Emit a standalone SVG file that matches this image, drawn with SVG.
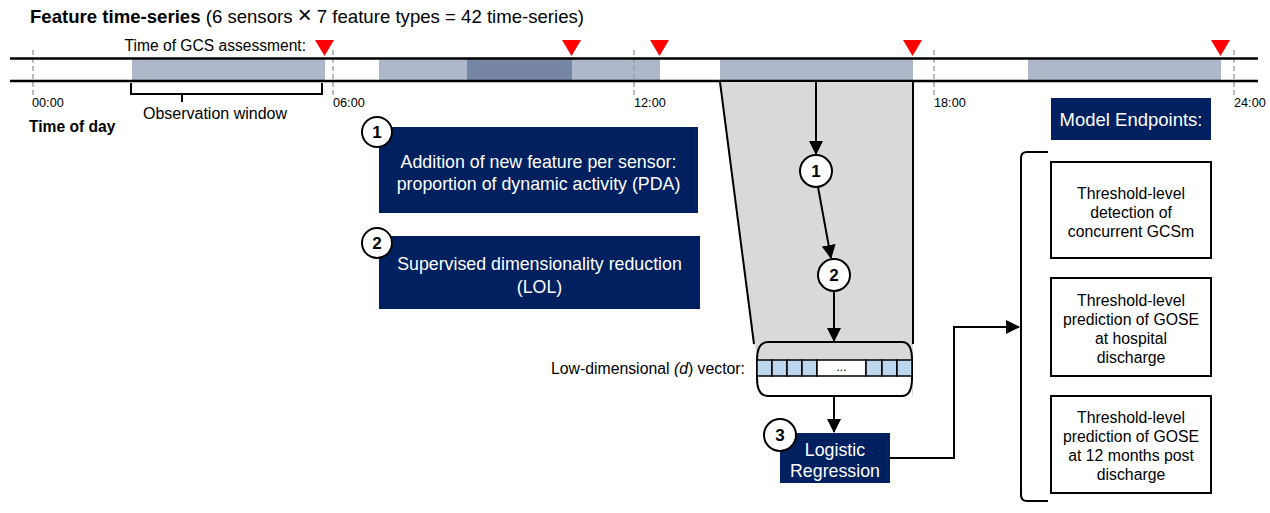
<svg xmlns="http://www.w3.org/2000/svg" width="1270" height="513" viewBox="0 0 1270 513">
<style>
text{font-family:"Liberation Sans",Arial,sans-serif;fill:#000}
.w{fill:#fff}
.navy{fill:#002060}
.seg{fill:#ADB9CA}
.segd{fill:#7786A4}
.tick{stroke:#999;stroke-width:1.3;stroke-dasharray:5,3}
.ln{stroke:#000;stroke-width:2;fill:none}
.tri{fill:#FF0000}
.circ{fill:#fff;stroke:#000;stroke-width:2}
.num{font-size:17px;font-weight:bold;text-anchor:middle}
.ep{fill:#fff;stroke:#000;stroke-width:2}
.ept{font-size:15.8px;text-anchor:middle}
.cell{fill:#BDD7EE;stroke:#000;stroke-width:1.5}
.bt{font-size:17.8px;text-anchor:middle}
.tk{font-size:12.7px}
</style>
<defs>
<marker id="ahb" markerWidth="14" markerHeight="14" refX="13" refY="7" orient="auto" markerUnits="userSpaceOnUse" viewBox="0 0 14 14">
<path d="M0,0 L14,7 L0,14 Z" fill="#000"/>
</marker>
</defs>

<g id="title">
<text x="30" y="23" font-size="18.6"><tspan font-weight="bold">Feature time-series</tspan> (6 sensors <tspan font-size="24">×</tspan> 7 feature types = 42 time-series)</text>
</g>

<g id="timeline">
<rect class="seg" x="132" y="59" width="193" height="22"/>
<rect class="seg" x="379" y="59" width="88" height="22"/>
<rect class="segd" x="467" y="59" width="105" height="22"/>
<rect class="seg" x="572" y="59" width="88" height="22"/>
<rect class="seg" x="720" y="59" width="193" height="22"/>
<rect class="seg" x="1028" y="59" width="193" height="22"/>
<line x1="33" y1="50" x2="33" y2="96" class="tick"/>
<line x1="333" y1="50" x2="333" y2="96" class="tick"/>
<line x1="634" y1="50" x2="634" y2="96" class="tick"/>
<line x1="934" y1="50" x2="934" y2="96" class="tick"/>
<line x1="1234" y1="50" x2="1234" y2="96" class="tick"/>
<line x1="10" y1="58.5" x2="1258" y2="58.5" stroke="#000" stroke-width="2.5"/>
<line x1="10" y1="81" x2="1258" y2="81" stroke="#000" stroke-width="2.5"/>
<text class="tk" x="32" y="107">00:00</text>
<text class="tk" x="333" y="107">06:00</text>
<text class="tk" x="634" y="107">12:00</text>
<text class="tk" x="934" y="107">18:00</text>
<text class="tk" x="1234" y="107">24:00</text>
<text x="29" y="132" font-size="15.6" font-weight="bold">Time of day</text>
<text x="306" y="51" font-size="15.6" text-anchor="end">Time of GCS assessment:</text>
<polygon class="tri" points="315,40 334,40 324.5,56"/>
<polygon class="tri" points="562,40 581,40 571.5,56"/>
<polygon class="tri" points="650,40 669,40 659.5,56"/>
<polygon class="tri" points="903,40 922,40 912.5,56"/>
<polygon class="tri" points="1211,40 1230,40 1220.5,56"/>
</g>

<g id="observation-window">
<path class="ln" d="M131,83 V94 H322 V83 M182,94 V102"/>
<text x="215" y="119" font-size="16" text-anchor="middle">Observation window</text>
</g>

<g id="funnel">
<polygon points="720,82 913,82 913,396 757,396 757,355 753,340" fill="#D9D9D9"/>
<path class="ln" d="M720,82 L754,344"/>
<line x1="913" y1="82" x2="913" y2="344" class="ln"/>
</g>

<g id="vector">
<path d="M757,396 H912 V376 H757 Z" fill="#fff"/>
<path class="ln" d="M768,342 H902 Q912,342 912,360 V378 Q912,396 902,396 H768 Q757,396 757,378 V360 Q757,342 768,342 Z"/>
<rect class="cell" x="757" y="360" width="15" height="16"/>
<rect class="cell" x="772" y="360" width="15" height="16"/>
<rect class="cell" x="787" y="360" width="15" height="16"/>
<rect class="cell" x="802" y="360" width="15" height="16"/>
<rect x="817" y="360" width="49" height="16" fill="#fff" stroke="#000" stroke-width="1.5"/>
<rect class="cell" x="866" y="360" width="16" height="16"/>
<rect class="cell" x="882" y="360" width="15" height="16"/>
<rect class="cell" x="897" y="360" width="15" height="16"/>
<text x="841.5" y="371" font-size="12" text-anchor="middle">...</text>
<text x="745" y="374" font-size="15.8" text-anchor="end">Low-dimensional  <tspan font-style="italic">(d</tspan>) vector:</text>
</g>

<g id="connectors">
<line x1="816" y1="82" x2="816" y2="154" class="ln" marker-end="url(#ahb)"/>
<line x1="818" y1="187" x2="831" y2="258" class="ln" marker-end="url(#ahb)"/>
<line x1="834" y1="292" x2="834" y2="341" class="ln" marker-end="url(#ahb)"/>
<line x1="834" y1="397" x2="834" y2="432" class="ln" marker-end="url(#ahb)"/>
<path class="ln" d="M890,458 H954 V327 H1019" marker-end="url(#ahb)"/>
</g>

<g id="step1">
<rect class="navy" x="379" y="127" width="319" height="86"/>
<text class="w bt" x="538.5" y="168">Addition of new feature per sensor:</text>
<text class="w bt" x="538.5" y="190">proportion of dynamic activity (PDA)</text>
<circle class="circ" cx="377" cy="132" r="15"/>
<text class="num" x="377" y="138">1</text>
</g>

<g id="step2">
<rect class="navy" x="379" y="236" width="321" height="73"/>
<text class="w bt" x="539.5" y="270">Supervised dimensionality reduction</text>
<text class="w bt" x="539.5" y="293">(LOL)</text>
<circle class="circ" cx="377" cy="243" r="15"/>
<text class="num" x="377" y="249">2</text>
</g>

<g id="funnel-step1">
<circle class="circ" cx="816" cy="171" r="16"/>
<text class="num" x="816" y="177">1</text>
</g>
<g id="funnel-step2">
<circle class="circ" cx="834" cy="275" r="16"/>
<text class="num" x="834" y="281">2</text>
</g>

<g id="logistic-regression">
<rect class="navy" x="780" y="433" width="110" height="50"/>
<text class="w bt" x="835" y="456">Logistic</text>
<text class="w bt" x="835" y="477">Regression</text>
<circle class="circ" cx="780" cy="435" r="16"/>
<text class="num" x="780" y="441">3</text>
</g>

<g id="model-endpoints">
<rect class="navy" x="1051" y="98" width="160" height="42"/>
<text class="w" x="1131" y="126" font-size="18.5" text-anchor="middle">Model Endpoints:</text>
<path class="ln" d="M1048,152 H1027 Q1021,152 1021,158 V495 Q1021,501 1027,501 H1048"/>
</g>

<g id="endpoint1">
<rect class="ep" x="1051" y="162" width="160" height="96"/>
<text class="ept" x="1131" y="199">Threshold-level</text>
<text class="ept" x="1131" y="218">detection of</text>
<text class="ept" x="1131" y="237">concurrent GCSm</text>
</g>
<g id="endpoint2">
<rect class="ep" x="1051" y="278" width="160" height="98"/>
<text class="ept" x="1131" y="305.5">Threshold-level</text>
<text class="ept" x="1131" y="324.5">prediction of GOSE</text>
<text class="ept" x="1131" y="343.5">at hospital</text>
<text class="ept" x="1131" y="362.5">discharge</text>
</g>
<g id="endpoint3">
<rect class="ep" x="1051" y="396" width="160" height="97"/>
<text class="ept" x="1131" y="422.5">Threshold-level</text>
<text class="ept" x="1131" y="441.5">prediction of GOSE</text>
<text class="ept" x="1131" y="460.5">at 12 months post</text>
<text class="ept" x="1131" y="479.5">discharge</text>
</g>
</svg>
